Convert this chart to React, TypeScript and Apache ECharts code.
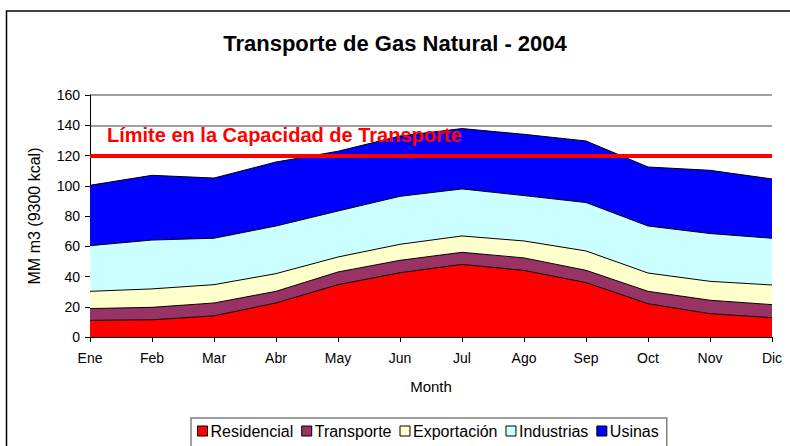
import React, { useEffect, useRef } from "react";
import * as echarts from "echarts";

const months = ["Ene", "Feb", "Mar", "Abr", "May", "Jun", "Jul", "Ago", "Sep", "Oct", "Nov", "Dic"];
const residencial = [11, 11.4, 14, 22.5, 34.6, 42.5, 48, 44, 36, 22, 15.4, 12.8];
const transporte = [7.8, 8.2, 8.5, 7.7, 8.4, 8.2, 8, 8.3, 8.1, 8.2, 8.9, 8.6];
const exportacion = [11.4, 12.2, 12.1, 11.7, 9.9, 10.6, 10.8, 11.2, 12.8, 12.1, 12.5, 13];
const industrias = [30.2, 32.3, 30.7, 31.5, 30.4, 31.7, 31.1, 30, 32, 31.1, 31.6, 30.9];
const usinas = [39.9, 42.8, 39.8, 42.3, 39.5, 39.9, 39.9, 40.5, 40.7, 39, 41.8, 39.2];
const capacityLimit = 120;
const limitLabel = "Límite en la Capacidad de Transporte";

const FONT = "'Liberation Sans', Arial, sans-serif";

export default function App() {
  const ref = useRef<HTMLDivElement>(null);
  useEffect(() => {
    if (!ref.current) return;
    const chart = echarts.init(ref.current, null, { renderer: "svg" });
    const mk = (name: string, data: number[], color: string, extra: any = {}) => ({
      name,
      type: "line",
      stack: "total",
      data,
      showSymbol: false,
      symbol: "none",
      lineStyle: { color: "#000", width: 1 },
      areaStyle: { color, opacity: 1 },
      itemStyle: { color, borderColor: "#000", borderWidth: 1 },
      emphasis: { disabled: true },
      ...extra,
    });
    chart.setOption({
      animation: false,
      backgroundColor: "#fff",
      textStyle: { fontFamily: FONT },
      title: {
        text: "Transporte de Gas Natural - 2004",
        left: "center",
        top: 27,
        textStyle: { fontFamily: FONT, fontWeight: "bold", fontSize: 22, color: "#000" },
      },
      grid: { left: 90, right: 18, top: 95, bottom: 109 },
      xAxis: {
        type: "category",
        data: months,
        boundaryGap: false,
        name: "Month",
        nameLocation: "middle",
        nameGap: 42,
        nameTextStyle: { fontFamily: FONT, fontSize: 15, color: "#000" },
        axisLine: { lineStyle: { color: "#000", width: 1 } },
        axisTick: { show: true, length: 5, lineStyle: { color: "#000" } },
        axisLabel: { fontFamily: FONT, fontSize: 14, color: "#000", margin: 14 },
        splitLine: { show: false },
      },
      yAxis: {
        type: "value",
        min: 0,
        max: 160,
        interval: 20,
        name: "MM m3 (9300 kcal)",
        nameLocation: "middle",
        nameGap: 48,
        nameTextStyle: { fontFamily: FONT, fontSize: 16, color: "#000" },
        axisLine: { show: true, lineStyle: { color: "#000", width: 1 } },
        axisTick: { show: true, length: 5, lineStyle: { color: "#000" } },
        axisLabel: { fontFamily: FONT, fontSize: 14, color: "#000", margin: 10 },
        splitLine: { show: true, lineStyle: { color: "#808080", width: 1.5 } },
      },
      legend: {
        left: 191,
        top: 418,
        padding: [5, 8, 20, 6],
        itemGap: 8,
        itemWidth: 10,
        itemHeight: 10,
        icon: "rect",
        borderColor: "#808080",
        borderWidth: 1.5,
        textStyle: { fontFamily: FONT, fontSize: 16, color: "#000", padding: [0, 0, 0, -2] },
        data: ["Residencial", "Transporte", "Exportación", "Industrias", "Usinas"].map((n) => ({
          name: n,
          itemStyle: { borderColor: "#000", borderWidth: 1 },
        })),
      },
      series: [
        mk("Residencial", residencial, "#FF0000"),
        mk("Transporte", transporte, "#993366"),
        mk("Exportación", exportacion, "#FFFFCC"),
        mk("Industrias", industrias, "#CCFFFF"),
        mk("Usinas", usinas, "#0000FF", {
          markLine: {
            silent: true,
            symbol: "none",
            z: 10,
            label: { show: false },
            lineStyle: { color: "#FF0000", width: 4, type: "solid" },
            data: [{ yAxis: capacityLimit }],
          },
        }),
      ],
      graphic: [
        {
          type: "rect",
          shape: { x: 6.5, y: 11, width: 900, height: 700 },
          style: { fill: "none", stroke: "#000", lineWidth: 1.5 },
          silent: true,
          z: 100,
        },
        {
          type: "text",
          left: 107,
          top: 125,
          style: {
            text: limitLabel,
            fill: "#FF0000",
            font: `bold 20px ${FONT}`,
          },
          z: 100,
        },
      ],
    });
    return () => chart.dispose();
  }, []);
  return (
    <div
      ref={ref}
      style={{ position: "absolute", left: 0, top: 0, width: 790, height: 446 }}
    />
  );
}
